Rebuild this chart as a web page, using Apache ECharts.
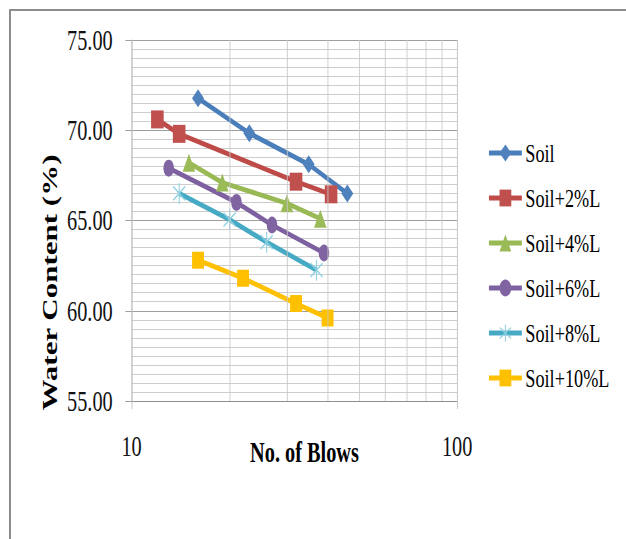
<!DOCTYPE html>
<html><head><meta charset="utf-8">
<script src="https://cdn.jsdelivr.net/npm/echarts@6/dist/echarts.min.js"></script>
<style>
html,body{margin:0;padding:0;background:#fff;overflow:hidden;width:626px;height:539px;}
#frame{position:absolute;left:9px;top:9px;width:700px;height:600px;border-top:2px solid #8c8c8c;border-left:2px solid #8c8c8c;}
#chart{position:absolute;left:0;top:0;width:894px;height:539px;transform:scaleX(0.7);transform-origin:0 0;}
</style></head><body>
<div id="frame"></div>
<div id="chart"></div>
<script>
// ---- data ----
const seriesNames = ['Soil', 'Soil+2%L', 'Soil+4%L', 'Soil+6%L', 'Soil+8%L', 'Soil+10%L'];
const soil      = [[16, 71.77], [23, 69.83], [35, 68.11], [46, 66.50]];
const soil2L    = [[12, 70.60], [14, 69.80], [32, 67.15], [41, 66.45]];
const soil4L    = [[15, 68.20], [19, 67.10], [30, 65.95], [38, 65.10]];
const soil6L    = [[13, 67.90], [21, 66.00], [27, 64.75], [39, 63.20]];
const soil8L    = [[14, 66.50], [20, 65.05], [26, 63.80], [37, 62.25]];
const soil10L   = [[16, 62.80], [22, 61.80], [32, 60.40], [40, 59.60]];
const minorXTicks = [20, 30, 40, 50, 60, 70, 80, 90];
const yTicks = [55, 60, 65, 70, 75];

// ---- styles ----
const colors = ['#4A7EBB', '#BE4B48', '#98B954', '#7D60A0', '#46AAC5', '#FFC000'];
const markerColors = ['#4F81BD', '#C0504D', '#9BBB59', '#8064A2', '#8FD0E2', '#FFC000'];
const asterisk = 'path://M9.2,0H10.8V20H9.2Z M0.6,4.2L1.4,2.8L19.4,15.8L18.6,17.2Z M0.6,15.8L1.4,17.2L19.4,4.2L18.6,2.8Z';
const symbols = ['diamond', 'rect', 'triangle', 'circle', asterisk, 'rect'];
const symbolSizes = [[17, 18], 18, 18, [15, 17], [18, 21], 17];
const datasets = [soil, soil2L, soil4L, soil6L, soil8L, soil10L];

const serif = '"Liberation Serif", "Times New Roman", serif';

const series = [{
  name: '__grid',
  type: 'line',
  data: [],
  z: 1,
  silent: true,
  markLine: {
    silent: true,
    symbol: ['none', 'none'],
    label: {show: false},
    lineStyle: {color: '#c6c6c6', width: 1, type: 'solid'},
    emphasis: {disabled: true},
    data: minorXTicks.map(v => ({xAxis: v}))
  }
}];
datasets.forEach((d, i) => {
  series.push({
    name: seriesNames[i],
    type: 'line',
    data: d,
    z: 3,
    symbol: symbols[i],
    symbolSize: symbolSizes[i],
    lineStyle: {color: colors[i], width: 5},
    itemStyle: {color: markerColors[i]},
    emphasis: {disabled: true}
  });
});

const chart = echarts.init(document.getElementById('chart'), null, {renderer: 'svg'});
chart.setOption({
  animation: false,
  backgroundColor: 'transparent',
  grid: {left: 188, top: 40, width: 465, height: 361, containLabel: false},
  xAxis: {
    type: 'log',
    logBase: 10,
    min: 10,
    max: 100,
    name: 'No. of Blows',
    nameLocation: 'middle',
    nameGap: 37,
    nameMoveOverlap: false,
    nameTextStyle: {fontFamily: serif, fontWeight: 'bold', fontSize: 29, color: '#000', padding: [0, 0, 0, 29]},
    axisLine: {show: true, lineStyle: {color: '#8c8c8c', width: 1}},
    axisTick: {show: true, inside: false, length: 8, lineStyle: {color: '#bdbdbd'}},
    axisLabel: {fontFamily: serif, fontSize: 29, color: '#111', margin: 31},
    splitLine: {show: true, lineStyle: {color: '#bdbdbd', width: 1}}
  },
  yAxis: {
    type: 'value',
    min: yTicks[0],
    max: yTicks[yTicks.length - 1],
    interval: 5,
    name: 'Water Content (%)',
    nameLocation: 'middle',
    nameRotate: 90,
    nameGap: 101,
    nameMoveOverlap: false,
    nameTextStyle: {fontFamily: serif, fontWeight: 'bold', fontSize: 31, color: '#000', padding: [0, 124, 0, 0]},
    axisLine: {show: true, lineStyle: {color: '#bdbdbd', width: 1}},
    axisTick: {show: true, inside: false, length: 9, lineStyle: {color: '#8c8c8c'}},
    axisLabel: {fontFamily: serif, fontSize: 29, color: '#111', margin: 27, formatter: v => v.toFixed(2)},
    splitLine: {show: true, lineStyle: {color: '#8c8c8c', width: 1}},
    minorTick: {show: false, splitNumber: 10},
    minorSplitLine: {show: true, lineStyle: {color: '#c4c4c4', width: 1}}
  },
  legend: {
    data: seriesNames,
    orient: 'vertical',
    left: 696,
    top: 140,
    padding: 0,
    itemWidth: 47,
    itemHeight: 21,
    itemGap: 19,
    lineStyle: {width: 5},
    textStyle: {fontFamily: serif, fontSize: 26, color: '#000', lineHeight: 26}
  },
  series: series
});
</script>
</body></html>
